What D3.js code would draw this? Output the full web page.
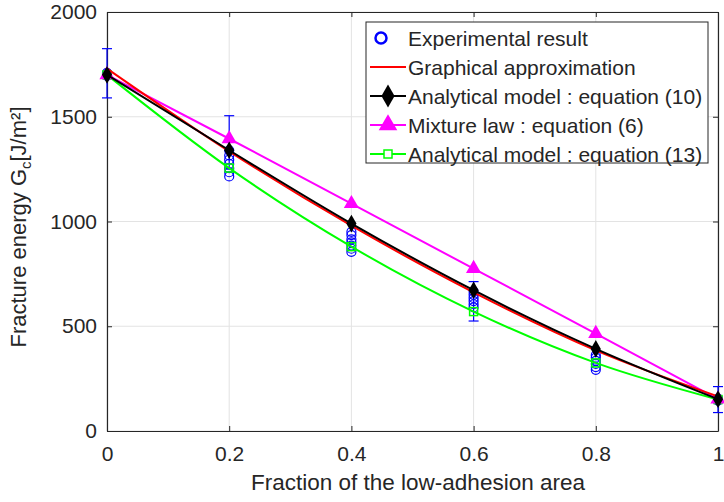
<!DOCTYPE html>
<html>
<head>
<meta charset="utf-8">
<script src="https://cdn.jsdelivr.net/npm/d3@7"></script>
<style>
  body { margin: 0; background: #fff; }
  text { font-family: "Liberation Sans", Arial, sans-serif; fill: #262626; }
</style>
</head>
<body>
<div id="chart-area"></div>
<script>
// fraction of low-adhesion area
let fractions = [0, 0.2, 0.4, 0.6, 0.8, 1];

// model curves
let graphical = [1730, 1335, 980, 662, 385, 165];
let eq10 = [1700, 1340, 990, 672, 392, 152];
let mixture = [1700, 1395, 1085, 775, 465, 152];
let eq13 = [1700, 1255, 880, 570, 325, 150];

// experimental points
let expX = [0, 0, 0, 0,
  0.2, 0.2, 0.2, 0.2, 0.2, 0.2, 0.2,
  0.4, 0.4, 0.4, 0.4, 0.4, 0.4, 0.4,
  0.6, 0.6, 0.6, 0.6, 0.6, 0.6,
  0.8, 0.8, 0.8, 0.8, 0.8, 0.8,
  1, 1, 1];
let expY = [1695, 1700, 1705, 1710,
  1215, 1235, 1255, 1275, 1295, 1315, 1340,
  855, 870, 885, 900, 915, 935, 950,
  590, 605, 620, 635, 650, 665,
  292, 305, 320, 335, 350, 362,
  145, 150, 155];

// error bars
let errX = [0, 0.2, 0.6, 1];
let errLow = [1590, 1250, 525, 88];
let errHigh = [1825, 1505, 713, 212];

let xTicks = [0, 0.2, 0.4, 0.6, 0.8, 1];
let yTicks = [0, 500, 1000, 1500, 2000];

let legendLabels = ["Experimental result", "Graphical approximation",
  "Analytical model : equation (10)", "Mixture law : equation (6)",
  "Analytical model : equation (13)"];

let m = {top: 12, right: 6, bottom: 71, left: 107};
let w = 724 - m.left - m.right;
let h = 502 - m.top - m.bottom;

let svg = d3.select("#chart-area")
    .append("svg")
    .attr("width", 724)
    .attr("height", 502);

let g = svg.append("g")
    .attr("transform", "translate(" + m.left + "," + m.top + ")");

let x = d3.scaleLinear().domain([0, 1]).range([0, w]);
let y = d3.scaleLinear().domain([0, 2000]).range([h, 0]);

// grid
g.selectAll(".gx").data(xTicks).enter().append("line")
    .attr("x1", d => x(d)).attr("x2", d => x(d))
    .attr("y1", 0).attr("y2", h)
    .attr("stroke", "#e3e3e3").attr("stroke-width", 1);
g.selectAll(".gy").data(yTicks).enter().append("line")
    .attr("y1", d => y(d)).attr("y2", d => y(d))
    .attr("x1", 0).attr("x2", w)
    .attr("stroke", "#e3e3e3").attr("stroke-width", 1);

// axes (ticks inward, box)
let xAxisCall = d3.axisBottom(x).tickValues(xTicks).tickSizeInner(-5).tickSizeOuter(0)
    .tickPadding(15).tickFormat(d => d === 0 || d === 1 ? d3.format("d")(d) : d3.format(".1f")(d));
let xa = g.append("g").attr("transform", "translate(0," + h + ")").call(xAxisCall);
let yAxisCall = d3.axisLeft(y).tickValues(yTicks).tickSizeInner(-5).tickSizeOuter(0)
    .tickPadding(10).tickFormat(d3.format("d"));
let ya = g.append("g").call(yAxisCall);
let xTop = d3.axisTop(x).tickValues(xTicks).tickSizeInner(-5).tickSizeOuter(0).tickFormat("");
let xt = g.append("g").call(xTop);
let yRight = d3.axisRight(y).tickValues(yTicks).tickSizeInner(-5).tickSizeOuter(0).tickFormat("");
let yr = g.append("g").attr("transform", "translate(" + w + ",0)").call(yRight);
[xa, ya, xt, yr].forEach(function(a){
  a.selectAll("path").attr("stroke", "#262626").attr("stroke-width", 1.2);
  a.selectAll("line").attr("stroke", "#262626");
  a.selectAll("text").attr("font-size", "21px").attr("fill", "#262626")
    .attr("font-family", "Liberation Sans, Arial, sans-serif");
});

let line = d3.line().x(d => x(d[0])).y(d => y(d[1])).curve(d3.curveMonotoneX);
let straight = d3.line().x(d => x(d[0])).y(d => y(d[1]));

function pairs(vals) { return fractions.map((f, i) => [f, vals[i]]); }

// error bars
errX.forEach(function(ex, i){
  g.append("line").attr("x1", x(ex)).attr("x2", x(ex))
    .attr("y1", y(errLow[i])).attr("y2", y(errHigh[i]))
    .attr("stroke", "#0000ff").attr("stroke-width", 1.2);
  [errLow[i], errHigh[i]].forEach(function(v){
    g.append("line").attr("x1", x(ex) - 5).attr("x2", x(ex) + 5)
      .attr("y1", y(v)).attr("y2", y(v))
      .attr("stroke", "#0000ff").attr("stroke-width", 1.2);
  });
});

// experimental circles
g.selectAll(".exp").data(expX).enter().append("circle")
    .attr("cx", d => x(d))
    .attr("cy", (d, i) => y(expY[i]))
    .attr("r", 4.5)
    .attr("fill", "none").attr("stroke", "#0000ff").attr("stroke-width", 1.2);

// green eq 13
g.append("path").attr("d", line(pairs(eq13)))
    .attr("fill", "none").attr("stroke", "#00ff00").attr("stroke-width", 2);
g.selectAll(".sq").data(pairs(eq13)).enter().append("rect")
    .attr("x", d => x(d[0]) - 4).attr("y", d => y(d[1]) - 4)
    .attr("width", 8).attr("height", 8)
    .attr("fill", "none").attr("stroke", "#00ff00").attr("stroke-width", 1.5);

// magenta mixture law
g.append("path").attr("d", straight(pairs(mixture)))
    .attr("fill", "none").attr("stroke", "#ff00ff").attr("stroke-width", 2);
let tri = d3.symbol().type(d3.symbolTriangle).size(100);
g.selectAll(".tri").data(pairs(mixture)).enter().append("path")
    .attr("d", tri)
    .attr("transform", d => "translate(" + x(d[0]) + "," + y(d[1]) + ")")
    .attr("fill", "#ff00ff");

// red graphical approximation
g.append("path").attr("d", line(pairs(graphical)))
    .attr("fill", "none").attr("stroke", "#ff0000").attr("stroke-width", 2);

// black eq 10
g.append("path").attr("d", line(pairs(eq10)))
    .attr("fill", "none").attr("stroke", "#000").attr("stroke-width", 2);
let dia = d3.symbol().type(d3.symbolDiamond).size(90);
g.selectAll(".dia").data(pairs(eq10)).enter().append("path")
    .attr("d", dia)
    .attr("transform", d => "translate(" + x(d[0]) + "," + y(d[1]) + ")")
    .attr("fill", "#000");

// labels
svg.append("text")
    .attr("x", 418)
    .attr("y", 490)
    .attr("font-size", "22.5px")
    .attr("text-anchor", "middle")
    .text("Fraction of the low-adhesion area");

let yl = svg.append("text")
    .attr("transform", "translate(26," + 227 + ") rotate(-90)")
    .attr("font-size", "22px")
    .attr("text-anchor", "middle");
yl.append("tspan").text("Fracture energy G");
yl.append("tspan").attr("font-size", "15px").attr("dy", 5).text("c");
yl.append("tspan").attr("dy", -5).text("[J/m²]");

// legend
let lg = svg.append("g").attr("transform", "translate(366,22)");
lg.append("rect").attr("width", 342).attr("height", 141)
    .attr("fill", "#fff").attr("stroke", "#262626").attr("stroke-width", 1);
let rowY = d => 16 + d * 29;
legendLabels.forEach(function(lab, i){
  lg.append("text").attr("x", 42).attr("y", rowY(i) + 7.5)
    .attr("font-size", "21px").text(lab);
});
// legend samples
lg.append("circle").attr("cx", 15).attr("cy", rowY(0)).attr("r", 5.5)
    .attr("fill", "none").attr("stroke", "#0000ff").attr("stroke-width", 2.5);
let sampleColors = [null, "#ff0000", "#000", "#ff00ff", "#00ff00"];
[1, 2, 3, 4].forEach(function(i){
  lg.append("line").attr("x1", 4).attr("x2", 40)
    .attr("y1", rowY(i)).attr("y2", rowY(i))
    .attr("stroke", sampleColors[i]).attr("stroke-width", 2);
});
lg.append("path").attr("d", d3.symbol().type(d3.symbolDiamond).size(150))
    .attr("transform", "translate(22," + rowY(2) + ")").attr("fill", "#000");
lg.append("path").attr("d", d3.symbol().type(d3.symbolTriangle).size(150))
    .attr("transform", "translate(22," + rowY(3) + ")").attr("fill", "#ff00ff");
lg.append("rect").attr("x", 18).attr("y", rowY(4) - 4).attr("width", 8).attr("height", 8)
    .attr("fill", "#fff").attr("stroke", "#00ff00").attr("stroke-width", 1.5);
</script>
</body>
</html>
